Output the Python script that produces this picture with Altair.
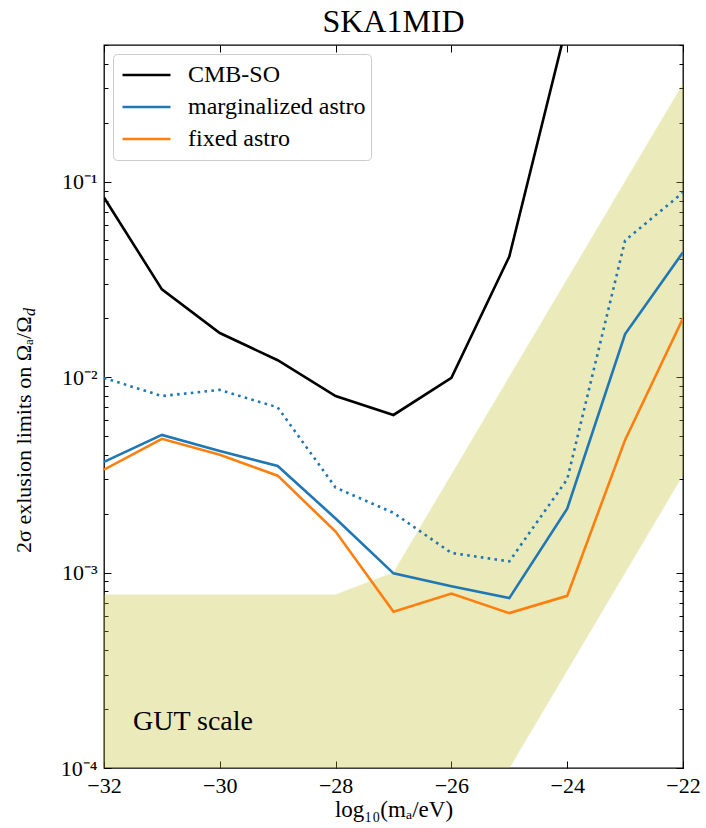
import altair as alt
import pandas as pd

# ---- data ----
x_vals = [-32, -31, -30, -29, -28, -27, -26, -25, -24, -23, -22]
cmb_x = [-32, -31, -30, -29, -28, -27, -26, -25, -24]
cmb_so = [0.083, 0.0281, 0.0168, 0.0122, 0.0080, 0.0064, 0.0099, 0.0414, 0.65]
marginalized = [0.00368, 0.00506, 0.00419, 0.00351, 0.00189, 0.00099, 0.00085, 0.00074, 0.00212, 0.0166, 0.0435]
fixed = [0.00336, 0.00483, 0.0040, 0.00313, 0.00162, 0.00063, 0.00078, 0.00062, 0.00076, 0.00477, 0.020]
marginalized_dotted = [0.0099, 0.0080, 0.0086, 0.0070, 0.00272, 0.00202, 0.00126, 0.00114, 0.0030, 0.050, 0.088]

band_x = [-32, -28, -27, -25, -22]
band_low = [1e-4, 1e-4, 1e-4, 1e-4, 0.00316]
band_high = [0.00077, 0.00077, 0.001, 0.01, 0.316]

series_names = ["CMB-SO", "marginalized astro", "fixed astro"]
series_colors = ["#000000", "#1f77b4", "#ff7f0e"]

x_ticks = [-32, -30, -28, -26, -24, -22]
y_major = [1e-4, 1e-3, 1e-2, 1e-1]
y_minor = [2e-4, 3e-4, 4e-4, 5e-4, 6e-4, 7e-4, 8e-4, 9e-4,
           2e-3, 3e-3, 4e-3, 5e-3, 6e-3, 7e-3, 8e-3, 9e-3,
           2e-2, 3e-2, 4e-2, 5e-2, 6e-2, 7e-2, 8e-2, 9e-2,
           2e-1, 3e-1, 4e-1, 5e-1]

label_x = [-31.5]
label_y = [1.72e-4]
label_text = ["GUT scale"]

y_title_main = "2σ exlusion limits on Ωₐ/Ω"
y_title_sub = ["d"]

# ---- tables ----
rows = []
for xv, yv in zip(cmb_x, cmb_so):
    rows.append({"x": xv, "y": yv, "series": "CMB-SO"})
for xv, yv in zip(x_vals, marginalized):
    rows.append({"x": xv, "y": yv, "series": "marginalized astro"})
for xv, yv in zip(x_vals, fixed):
    rows.append({"x": xv, "y": yv, "series": "fixed astro"})
lines_df = pd.DataFrame(rows)
dotted_df = pd.DataFrame({"x": x_vals, "y": marginalized_dotted})
band_df = pd.DataFrame({"x": band_x, "lo": band_low, "hi": band_high})
text_df = pd.DataFrame({"x": label_x, "y": label_y, "t": label_text})
sub_df = pd.DataFrame({"t": y_title_sub})

W, H = 579, 723
FONT = "Liberation Serif"
TITLE_X = -74      # baseline of the rotated y title, relative to plot
TITLE_END_Y = 271  # where the main y title ends (top), relative to plot

xscale = alt.Scale(domain=[-32, -22], nice=False, zero=False)
yscale = alt.Scale(type="log", domain=[1e-4, 0.5], nice=False)

major_test = "abs(log(datum.value)/LN10 - round(log(datum.value)/LN10)) < 0.001"
tick_size = {"condition": {"test": major_test, "value": 7}, "value": 4}
y_all = y_major + y_minor

ax_y_labels = alt.Axis(orient="left", values=y_major, ticks=False, domain=False, grid=False,
                       labelExpr="'10' + ['⁰','⁻¹','⁻²','⁻³','⁻⁴'][-round(log(datum.value)/LN10)]",
                       labelFont=FONT, labelFontSize=22, labelColor="black", labelPadding=7,
                       labelFlush=False,
                       title=y_title_main, titleFont=FONT, titleFontSize=22,
                       titleFontWeight="normal", titleColor="black", titleAngle=270,
                       titleAlign="right", titleBaseline="alphabetic",
                       titleX=TITLE_X, titleY=TITLE_END_Y)
ax_y_in_left = alt.Axis(orient="right", offset=-W, values=y_all, labels=False, domain=False,
                        grid=False, title=None, tickColor="black", tickSize=tick_size, tickWidth=1)
ax_y_in_right = alt.Axis(orient="left", offset=-W, values=y_all, labels=False, domain=False,
                         grid=False, title=None, tickColor="black", tickSize=tick_size, tickWidth=1)

ax_x_labels = alt.Axis(orient="bottom", values=x_ticks, ticks=False, domain=False, grid=False,
                       labelFont=FONT, labelFontSize=22, labelColor="black", labelPadding=7,
                       labelFlush=False,
                       title="log₁₀(mₐ/eV)", titleFont=FONT, titleFontSize=23,
                       titleFontWeight="normal", titleColor="black", titlePadding=2)
ax_x_in_bottom = alt.Axis(orient="top", offset=-H, values=x_ticks, labels=False, domain=False,
                          grid=False, title=None, tickColor="black", tickSize=7, tickWidth=1)
ax_x_in_top = alt.Axis(orient="bottom", offset=-H, values=x_ticks, labels=False, domain=False,
                       grid=False, title=None, tickColor="black", tickSize=7, tickWidth=1)

color_enc = alt.Color("series:N", scale=alt.Scale(domain=series_names, range=series_colors),
                      legend=alt.Legend(orient="top-left", title=None, offset=9,
                                        fillColor="rgba(255,255,255,0.8)", strokeColor="#cccccc",
                                        cornerRadius=4, padding=5, symbolOffset=3,
                                        symbolType="stroke",
                                        symbolStrokeWidth=2.5, symbolSize=2300, clipHeight=32,
                                        labelFont=FONT, labelFontSize=24, labelColor="black",
                                        labelOffset=16, labelLimit=400, rowPadding=0))

band = alt.Chart(band_df).mark_area(color="#bcbd22", opacity=0.3, stroke="#bcbd22",
                                    strokeOpacity=0.3, strokeWidth=1.5, clip=True).encode(
    x=alt.X("x:Q", scale=xscale, axis=ax_x_labels),
    y=alt.Y("lo:Q", scale=yscale, axis=ax_y_labels),
    y2="hi:Q",
)

def series_layer(name, xaxis, yaxis):
    return alt.Chart(lines_df).transform_filter(alt.datum.series == name).mark_line(
        strokeWidth=2.6, clip=True).encode(
        x=alt.X("x:Q", scale=xscale, axis=xaxis),
        y=alt.Y("y:Q", scale=yscale, axis=yaxis),
        color=color_enc,
    )

black = series_layer("CMB-SO", ax_x_in_bottom, ax_y_in_left)
blue = series_layer("marginalized astro", ax_x_in_top, ax_y_in_right)
orange = series_layer("fixed astro", None, None)

dotted = alt.Chart(dotted_df).mark_line(color="#1f77b4", strokeWidth=2.6, strokeDash=[2.6, 4.3],
                                        strokeCap="butt", clip=True).encode(
    x=alt.X("x:Q", scale=xscale, axis=None),
    y=alt.Y("y:Q", scale=yscale, axis=None),
)

gut = alt.Chart(text_df).mark_text(align="left", baseline="middle", font=FONT, fontSize=28,
                                   color="black").encode(
    x=alt.X("x:Q", scale=xscale, axis=None),
    y=alt.Y("y:Q", scale=yscale, axis=None),
    text="t:N",
)

# subscript "d" of the y-axis title
sub = alt.Chart(sub_df).mark_text(align="left", baseline="alphabetic", angle=270, font=FONT,
                                  fontSize=16, fontStyle="italic", color="black").encode(
    x=alt.value(TITLE_X + 5),
    y=alt.value(TITLE_END_Y),
    text="t:N",
)

chart = alt.layer(band, black, blue, dotted, orange, gut, sub).resolve_axis(
    x="independent", y="independent"
).properties(
    width=W, height=H,
    title=alt.Title("SKA1MID", font=FONT, fontSize=32, fontWeight="normal", color="black",
                    anchor="middle", offset=6),
    autosize=alt.AutoSizeParams(type="none"),
    padding={"left": 104, "top": 45, "right": 23, "bottom": 60},
).configure_view(stroke="black", strokeWidth=1.3)

chart.save("out.html", embed_options={"renderer": "svg", "actions": False})
